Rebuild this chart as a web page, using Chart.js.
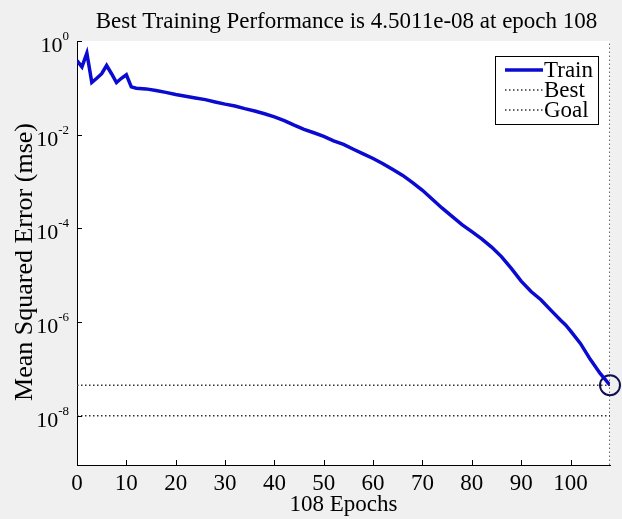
<!DOCTYPE html>
<html>
<head>
<meta charset="utf-8">
<script src="https://cdn.jsdelivr.net/npm/chart.js@4.4.0/dist/chart.umd.min.js"></script>
<style>
  html, body { margin: 0; padding: 0; background: #f0f0f0; }
  #chart { display: block; }
</style>
</head>
<body>
<canvas id="chart" width="622" height="519"></canvas>
<script>
// training record (epoch, mse)
const epochs = [0, 1, 2, 3, 4, 5, 6, 7, 8, 9, 10, 11, 12, 14, 16, 18, 20, 22, 24, 26, 28, 30,
  32, 34, 36, 38, 40, 42, 44, 46, 48, 50, 52, 54, 56, 58, 60, 62, 64, 66, 68, 70, 72, 74, 76,
  78, 80, 82, 84, 86, 88, 90, 92, 94, 96, 98, 99, 100, 102, 104, 106, 108];
const trainPerf = [0.38, 0.28, 0.55, 0.13, 0.16, 0.2, 0.3, 0.2, 0.13, 0.16, 0.19, 0.105, 0.098,
  0.095, 0.088, 0.08, 0.072, 0.066, 0.061, 0.056, 0.05, 0.045, 0.041, 0.036, 0.032, 0.028,
  0.024, 0.02, 0.016, 0.013, 0.011, 0.0092, 0.0074, 0.0062, 0.0049, 0.0039, 0.0031, 0.0024,
  0.0018, 0.00135, 0.00095, 0.00065, 0.00042, 0.00027, 0.00018, 0.00012, 0.000085, 0.00006,
  0.00004, 0.000025, 0.000014, 7.5e-6, 4.5e-6, 3e-6, 1.8e-6, 1.1e-6, 8.7e-7, 6.5e-7, 3.5e-7,
  1.6e-7, 8e-8, 4.5011e-8];

const bestEpoch = 108;
const bestPerf = 4.5011e-8;
const goal = 1e-8;

const xTicks = [0, 10, 20, 30, 40, 50, 60, 70, 80, 90, 100];
const yTicks = [1, 1e-2, 1e-4, 1e-6, 1e-8];
const yTickExponents = ['0', '-2', '-4', '-6', '-8'];

const titleText = 'Best Training Performance is 4.5011e-08 at epoch 108';
const yTitle = 'Mean Squared Error (mse)';
const xTitle = '108 Epochs';
const legendLabels = ['Train', 'Best', 'Goal'];

const yMin = 8.9e-10;
const yMax = 1;
const serif = 'Liberation Serif, Times New Roman, serif';

const trainColor = '#0a0ad0';
const dotColor = '#333';

// background, white plot area, inward ticks, powers of ten, titles and the boxed legend
const matlabLook = {
  id: 'matlabLook',
  beforeDraw(chart) {
    const { ctx, chartArea: a } = chart;
    ctx.save();
    ctx.fillStyle = '#f0f0f0';
    ctx.fillRect(0, 0, chart.width, chart.height);
    ctx.fillStyle = '#fff';
    ctx.fillRect(a.left, a.top, a.right - a.left, a.bottom - a.top);
    ctx.restore();
  },
  afterDraw(chart) {
    const { ctx, chartArea: a, scales } = chart;
    ctx.save();
    ctx.strokeStyle = '#000';
    ctx.lineWidth = 1;
    ctx.beginPath();
    xTicks.forEach(v => {
      const px = Math.round(scales.x.getPixelForValue(v)) + 0.5;
      ctx.moveTo(px, a.bottom);
      ctx.lineTo(px, a.bottom - 5);
    });
    yTicks.forEach(v => {
      const py = Math.round(scales.y.getPixelForValue(v)) + 0.5;
      ctx.moveTo(a.left, py);
      ctx.lineTo(a.left + 5, py);
    });
    ctx.stroke();

    // y tick labels as 10 with a raised exponent
    ctx.fillStyle = '#000';
    ctx.textBaseline = 'alphabetic';
    yTicks.forEach((v, i) => {
      const py = scales.y.getPixelForValue(v);
      const right = a.left - 8;
      ctx.font = '13px ' + serif;
      const ew = ctx.measureText(yTickExponents[i]).width;
      ctx.textAlign = 'left';
      ctx.fillText(yTickExponents[i], right - ew, py - 1);
      ctx.font = '22px ' + serif;
      ctx.textAlign = 'right';
      ctx.fillText('10', right - ew, py + 11);
    });

    // title centred over the axes
    ctx.font = '23px ' + serif;
    ctx.textAlign = 'center';
    ctx.textBaseline = 'middle';
    ctx.fillText(titleText, (a.left + a.right) / 2 + 3, 22);

    // y axis title
    ctx.save();
    ctx.translate(25, 262);
    ctx.rotate(-Math.PI / 2);
    ctx.font = '26px ' + serif;
    ctx.fillText(yTitle, 0, 0);
    ctx.restore();

    // legend box
    const bx = 495, by = 56, bw = 103, bh = 68;
    ctx.fillStyle = '#fff';
    ctx.fillRect(bx, by, bw, bh);
    ctx.strokeStyle = '#000';
    ctx.strokeRect(bx + 0.5, by + 0.5, bw, bh);
    ctx.font = '23px ' + serif;
    legendLabels.forEach((lab, i) => {
      const ly = by + 14 + i * 20;
      ctx.beginPath();
      if (i === 0) {
        ctx.strokeStyle = trainColor;
        ctx.lineWidth = 3.5;
        ctx.setLineDash([]);
      } else {
        ctx.strokeStyle = dotColor;
        ctx.lineWidth = 1.5;
        ctx.setLineDash([1.5, 2.5]);
      }
      ctx.moveTo(bx + 10, ly);
      ctx.lineTo(bx + 48, ly);
      ctx.stroke();
      ctx.setLineDash([]);
      ctx.fillStyle = '#000';
      ctx.textAlign = 'left';
      ctx.fillText(lab, bx + 49, ly + 1);
    });
    ctx.restore();
  }
};

const trainData = epochs.map((e, i) => ({ x: e, y: trainPerf[i] }));

new Chart(document.getElementById('chart'), {
  type: 'line',
  data: {
    datasets: [
      {
        label: 'Goal',
        data: [{ x: 0, y: goal }, { x: bestEpoch, y: goal }],
        borderColor: dotColor,
        borderWidth: 1.5,
        borderDash: [1.5, 2.5],
        pointRadius: 0
      },
      {
        label: 'Best',
        data: [{ x: 0, y: bestPerf }, { x: bestEpoch, y: bestPerf }, { x: bestEpoch, y: null },
          { x: bestEpoch, y: yMin }, { x: bestEpoch, y: yMax }],
        borderColor: dotColor,
        borderWidth: 1.5,
        borderDash: [1.5, 2.5],
        pointRadius: 0,
        spanGaps: false
      },
      {
        label: 'Train',
        data: trainData,
        borderColor: trainColor,
        borderWidth: 3.5,
        pointRadius: 0,
        tension: 0
      },
      {
        label: 'Best point',
        data: [{ x: bestEpoch, y: bestPerf }],
        showLine: false,
        pointRadius: 10,
        pointBorderWidth: 2,
        pointBorderColor: '#101050',
        pointBackgroundColor: 'rgba(0,0,0,0)',
        clip: false
      }
    ]
  },
  options: {
    responsive: false,
    animation: false,
    layout: { padding: { top: 41, right: 7, left: 0, bottom: 0 } },
    plugins: {
      legend: { display: false },
      tooltip: { enabled: false },
      title: { display: false }
    },
    scales: {
      x: {
        type: 'linear',
        min: 0,
        max: bestEpoch,
        afterBuildTicks: s => { s.ticks = xTicks.map(v => ({ value: v })); },
        afterFit: s => { s.height = 54; },
        grid: { display: false },
        border: { display: true, color: '#000', width: 1 },
        ticks: { color: '#000', font: { family: serif, size: 23 }, padding: -3, maxRotation: 0 },
        title: { display: true, text: xTitle, color: '#000', font: { family: serif, size: 23 }, padding: 0 }
      },
      y: {
        type: 'logarithmic',
        min: yMin,
        max: yMax,
        afterBuildTicks: s => { s.ticks = yTicks.map(v => ({ value: v })); },
        afterFit: s => { s.width = 77; },
        grid: { display: false },
        border: { display: true, color: '#000', width: 1 },
        ticks: { display: false },
        title: { display: false }
      }
    }
  },
  plugins: [matlabLook]
});
</script>
</body>
</html>
